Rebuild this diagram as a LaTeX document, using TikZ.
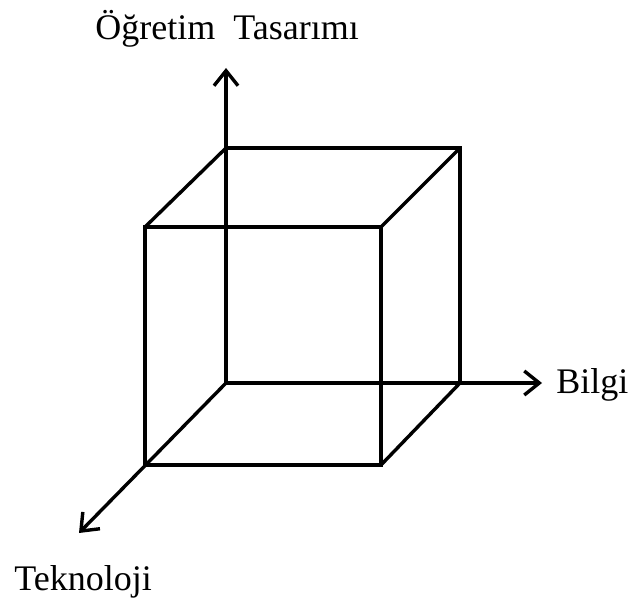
\documentclass[tikz,border=0pt]{standalone}
\usepackage{fontspec}
\setmainfont{Liberation Serif}
\usetikzlibrary{arrows.meta}

\begin{document}
\begin{tikzpicture}[
  x=0.5pt, y=-0.5pt,
  line cap=round, line join=miter,
  every node/.style={font=\fontsize{18}{21}\selectfont, inner sep=0pt},
  edge/.style={draw=black, line width=1.7pt},
  axis/.style={draw=black, line width=1.7pt, -{Straight Barb[length=7.5pt, width=12pt, line width=1.7pt]}},
  label/.style={anchor=base},
]
\useasboundingbox (0,0) rectangle (630,604);
% cube corners
\coordinate (o) at (226,383);
\coordinate (bt) at (226,148);
\coordinate (btr) at (460,148);
\coordinate (bbr) at (460,383);
\coordinate (ftl) at (145,227);
\coordinate (ftr) at (381,227);
\coordinate (fbr) at (381,465);
\coordinate (fbl) at (145,465);
% axis ends
\coordinate (up) at (226,68);
\coordinate (right) at (542,383);
\coordinate (down) at (79,533);
% labels
\node[label] (design) at (227,40) {Öğretim\ \ Tasarımı};
\node[label, anchor=base west] (bilgi) at (556,393) {Bilgi};
\node[label] (tekno) at (83,590) {Teknoloji};
% cube
\draw[edge] (ftl) -- (ftr) -- (fbr) -- (fbl) -- cycle;
\draw[edge] (bt) -- (btr) -- (bbr);
\draw[edge] (ftl) -- (bt);
\draw[edge] (ftr) -- (btr);
\draw[edge] (fbr) -- (bbr);
% axes
\draw[axis] (o) -- (up);
\draw[axis] (o) -- (right);
\draw[axis] (o) -- (down);
\end{tikzpicture}
\end{document}
